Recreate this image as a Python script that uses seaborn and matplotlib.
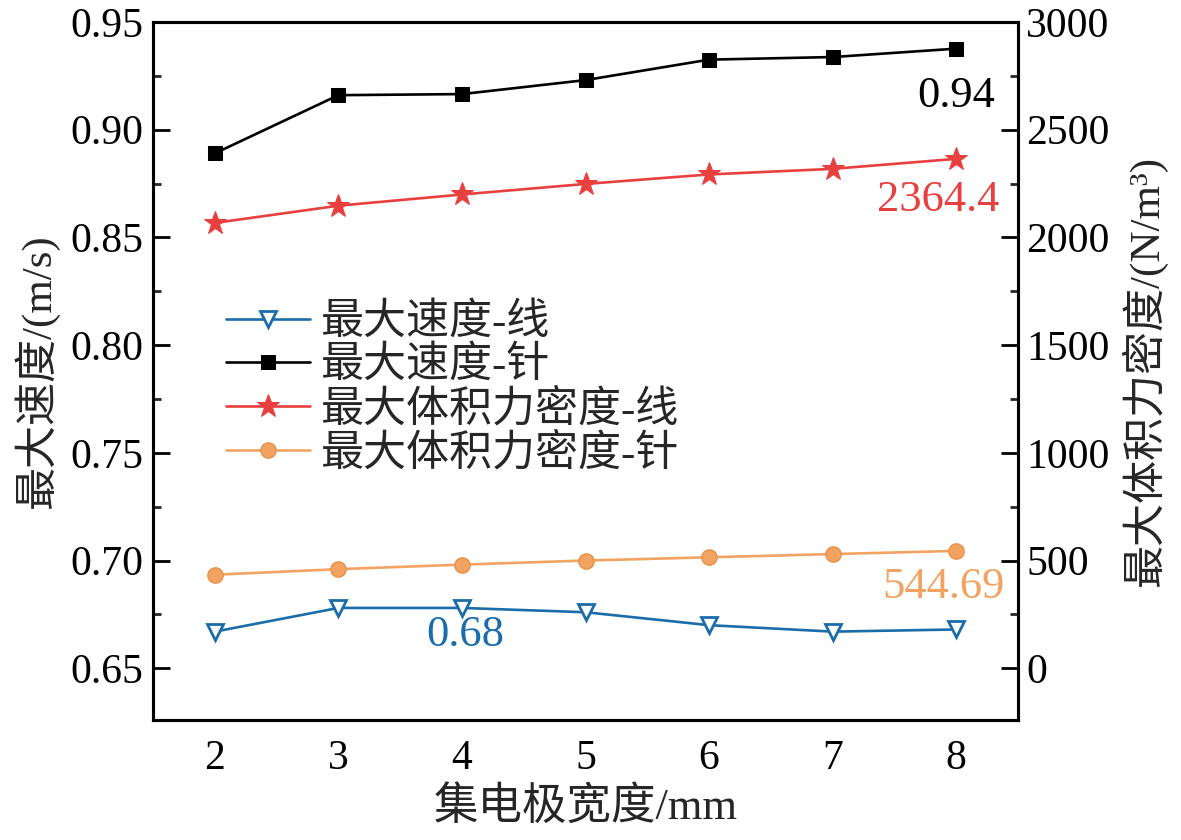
import matplotlib
matplotlib.use("Agg")
import matplotlib.pyplot as plt
import seaborn as sns
from matplotlib.ticker import MultipleLocator, FormatStrFormatter

# 数据
width_mm = [2, 3, 4, 5, 6, 7, 8]
vel_line = [0.667, 0.678, 0.678, 0.676, 0.670, 0.667, 0.668]
vel_needle = [0.889, 0.916, 0.9165, 0.923, 0.9325, 0.9337, 0.9376]
force_line = [2067, 2147, 2199, 2248, 2292, 2318, 2364.4]
force_needle = [434, 460, 481, 500, 515, 530, 544.69]

labels = ["最大速度-线", "最大速度-针", "最大体积力密度-线", "最大体积力密度-针"]
c_blue, c_black, c_red, c_orange = "#1A6DAA", "#000000", "#E8403F", "#F2A362"

sns.set_theme(style="white")
plt.rcParams['font.family'] = ['Liberation Serif', 'Noto Sans CJK SC']

fig = plt.figure(figsize=(11.81, 8.4), dpi=100)
ax = fig.add_axes([0.1296, 0.1429, 0.7324, 0.8310])
ax2 = ax.twinx()

lw = 1.9
sns.lineplot(x=width_mm, y=vel_line, ax=ax, color=c_blue, lw=lw, marker='v', markersize=11,
             markerfacecolor='white', markeredgecolor=c_blue, markeredgewidth=2, label=labels[0], legend=False)
sns.lineplot(x=width_mm, y=vel_needle, ax=ax, color=c_black, lw=lw, marker='s', markersize=10,
             markeredgecolor=c_black, label=labels[1], legend=False)
sns.lineplot(x=width_mm, y=force_line, ax=ax2, color=c_red, lw=lw, marker='*', markersize=17,
             markeredgecolor=c_red, label=labels[2], legend=False)
sns.lineplot(x=width_mm, y=force_needle, ax=ax2, color=c_orange, lw=lw, marker='o', markersize=11,
             markeredgecolor='#E8924A', markeredgewidth=1, label=labels[3], legend=False)

ax.set_xlim(1.5, 8.5)
ax.set_ylim(0.626, 0.95)
ax2.set_ylim(-240, 3000)
ax.set_xticks(width_mm)
ax.yaxis.set_major_locator(MultipleLocator(0.05))
ax.yaxis.set_minor_locator(MultipleLocator(0.025))
ax.yaxis.set_major_formatter(FormatStrFormatter('%.2f'))
ax2.set_yticks([0, 500, 1000, 1500, 2000, 2500, 3000])
ax2.yaxis.set_minor_locator(MultipleLocator(250))

fs = 30
for a in (ax, ax2):
    for s in a.spines.values():
        s.set_linewidth(2.2)
        s.set_color('black')
ax.tick_params(axis='both', which='major', direction='in', length=12, width=2, labelsize=fs, colors='black')
ax.tick_params(axis='y', which='minor', direction='in', length=6, width=2, left=True)
ax.tick_params(axis='y', which='major', pad=7)
ax.tick_params(axis='x', pad=14)
ax2.tick_params(axis='y', which='major', direction='in', length=12, width=2, labelsize=fs, colors='black', pad=6)
ax2.tick_params(axis='y', which='minor', direction='in', length=6, width=2, right=True)

ax.set_xlabel("集电极宽度/mm", fontsize=32, labelpad=6)
ax.set_ylabel("最大速度/(m/s)", fontsize=31, labelpad=8)
ax2.set_ylabel("最大体积力密度/(N/m³)", fontsize=31, labelpad=8)

# 标注
ax.text(8, 0.9158, "0.94", color=c_black, fontsize=32, ha='center', va='center')
ax2.text(7.85, 2173, "2364.4", color=c_red, fontsize=32, ha='center', va='center')
ax.text(4.03, 0.6656, "0.68", color=c_blue, fontsize=32, ha='center', va='center')
ax2.text(7.9, 376, "544.69", color=c_orange, fontsize=32, ha='center', va='center')

h1, l1 = ax.get_legend_handles_labels()
h2, l2 = ax2.get_legend_handles_labels()
ax.legend(h1 + h2, l1 + l2, loc='upper left', bbox_to_anchor=(0.05, 0.64), frameon=False,
          fontsize=31, handlelength=1.95, handletextpad=0.25, labelspacing=0.08, borderpad=0.2)

fig.savefig("out.png", dpi=100)
